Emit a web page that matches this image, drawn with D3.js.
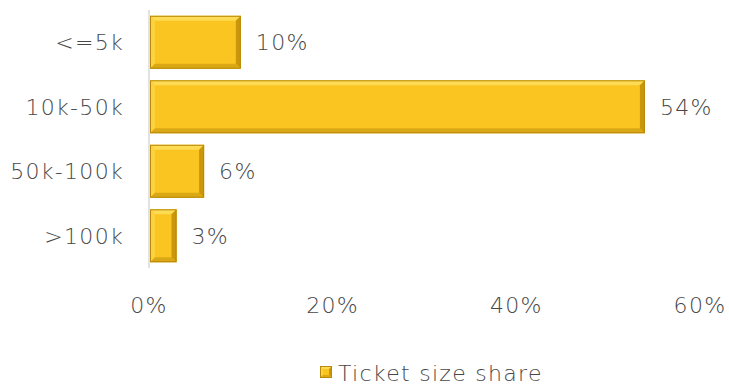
<!DOCTYPE html>
<meta charset="utf-8">
<style>
body { margin: 0; background: #fff; }
text { font-family: "DejaVu Sans", sans-serif; font-weight: 200; fill: #474747; letter-spacing: 1.3px; }
</style>
<body>
<script src="https://cdn.jsdelivr.net/npm/d3@7"></script>
<script>
// data
var categories = ["<=5k", "10k-50k", "50k-100k", ">100k"];
var shares = [0.10, 0.54, 0.06, 0.03];
var ticks = [0, 0.2, 0.4, 0.6];
var seriesName = "Ticket size share";

var width = 729, height = 385;
var margin = {top: 10, right: 29, bottom: 117, left: 149};

var svg = d3.select("body").append("svg")
    .attr("width", width)
    .attr("height", height);

var x = d3.scaleLinear().domain([0, 0.6]).range([margin.left, width - margin.right]);
var y = d3.scaleBand().domain(categories).range([margin.top, height - margin.bottom]).paddingInner(0.18).paddingOuter(0.09);

// bevel drawing for a box
function bevel(g, x0, y0, w, h, b) {
  var x1 = x0 + w, y1 = y0 + h;
  g.append("rect").attr("x", x0).attr("y", y0).attr("width", w).attr("height", h).attr("fill", "#FAC520");
  // top
  g.append("polygon").attr("points", [[x0,y0],[x1,y0],[x1-b,y0+b],[x0+b,y0+b]].join(" ")).attr("fill", "#FDDB55");
  // left
  g.append("polygon").attr("points", [[x0,y0],[x0+b,y0+b],[x0+b,y1-b],[x0,y1]].join(" ")).attr("fill", "#FCD23F");
  // right
  g.append("polygon").attr("points", [[x1,y0],[x1,y1],[x1-b,y1-b],[x1-b,y0+b]].join(" ")).attr("fill", "#C9960C");
  // bottom
  g.append("polygon").attr("points", [[x0,y1],[x0+b,y1-b],[x1-b,y1-b],[x1,y1]].join(" ")).attr("fill", "#DBA815");
  g.append("rect").attr("x", x0 + 0.5).attr("y", y0 + 0.5).attr("width", w - 1).attr("height", h - 1)
    .attr("fill", "none").attr("stroke", "#B8890A").attr("stroke-width", 1);
}

// axis line
svg.append("line")
    .attr("x1", x(0)).attr("x2", x(0))
    .attr("y1", margin.top).attr("y2", height - margin.bottom)
    .attr("stroke", "#D9D9D9").attr("stroke-width", 1.5);

var bars = svg.append("g");
categories.forEach(function(c, i) {
  var g = bars.append("g");
  bevel(g, x(0) + 1, y(c), x(shares[i]) - x(0) - 1, y.bandwidth(), 5);
});

// value labels
svg.selectAll(".val")
    .data(shares)
  .enter().append("text")
    .attr("class", "val")
    .attr("x", function(d) { return x(d) + 15; })
    .attr("y", function(d, i) { return y(categories[i]) + y.bandwidth() / 2; })
    .attr("dy", "0.36em")
    .style("font-size", "22px")
    .text(function(d) { return Math.round(d * 100) + "%"; });

// category labels
svg.selectAll(".cat")
    .data(categories)
  .enter().append("text")
    .attr("class", "cat")
    .attr("x", x(0) - 25)
    .attr("y", function(d) { return y(d) + y.bandwidth() / 2; })
    .attr("dy", "0.36em")
    .attr("text-anchor", "end")
    .style("font-size", "22px")
    .text(function(d) { return d; });

// x tick labels
svg.selectAll(".tick")
    .data(ticks)
  .enter().append("text")
    .attr("class", "tick")
    .attr("x", function(d) { return x(d); })
    .attr("y", 313)
    .attr("text-anchor", "middle")
    .style("font-size", "22px")
    .text(function(d) { return Math.round(d * 100) + "%"; });

// legend
var lg = svg.append("g");
bevel(lg, 320, 366, 12, 12, 3);
lg.append("text")
    .attr("x", 338)
    .attr("y", 381)
    .style("font-size", "22px")
    .text(seriesName);
</script>
</body>
